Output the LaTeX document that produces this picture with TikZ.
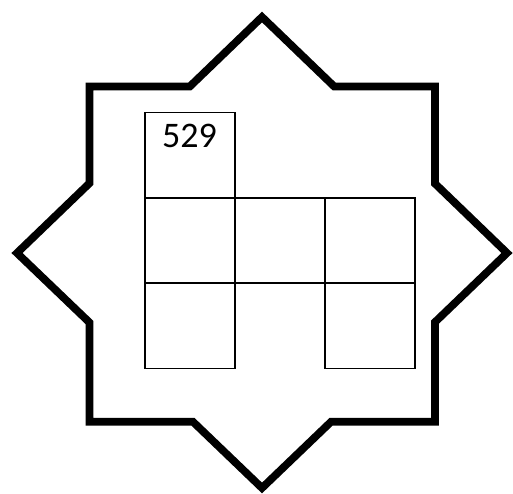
\documentclass[tikz,border=0pt]{standalone}
\usepackage{fontspec}
\setmainfont{Carlito}
\begin{document}
\begin{tikzpicture}[x=1pt,y=-1pt,
  star/.style={line width=7.7pt,line join=miter,draw=black},
  cell/.style={draw=black,line width=1.5pt,rectangle,minimum width=90pt,minimum height=85.3pt,inner sep=0pt,anchor=north west},
  num/.style={font=\fontsize{36}{40}\selectfont,anchor=base,inner sep=0pt}]
\useasboundingbox (0,0) rectangle (513,493);
% eight-pointed star outline (union of square and diamond)
\draw[star] (262,17) -- (334.2,86.5) -- (435,86.5) -- (435,183.6) -- (507,253)
  -- (435,322.1) -- (435,421.7) -- (331.1,421.7) -- (262,488)
  -- (192.9,421.7) -- (89.5,421.7) -- (89.5,322.5) -- (17,253)
  -- (89.5,183.2) -- (89.5,86.5) -- (189.8,86.5) -- cycle;
% cells
\node[cell] (c00) at (144,111.7) {};
\node[cell] (c10) at (144,197) {};
\node[cell] (c11) at (234,197) {};
\node[cell] (c12) at (324,197) {};
\node[cell] (c20) at (144,282.3) {};
\node[cell] (c22) at (324,282.3) {};
\node[num] (t) at (189.5,147.7) {529};
\end{tikzpicture}
\end{document}
